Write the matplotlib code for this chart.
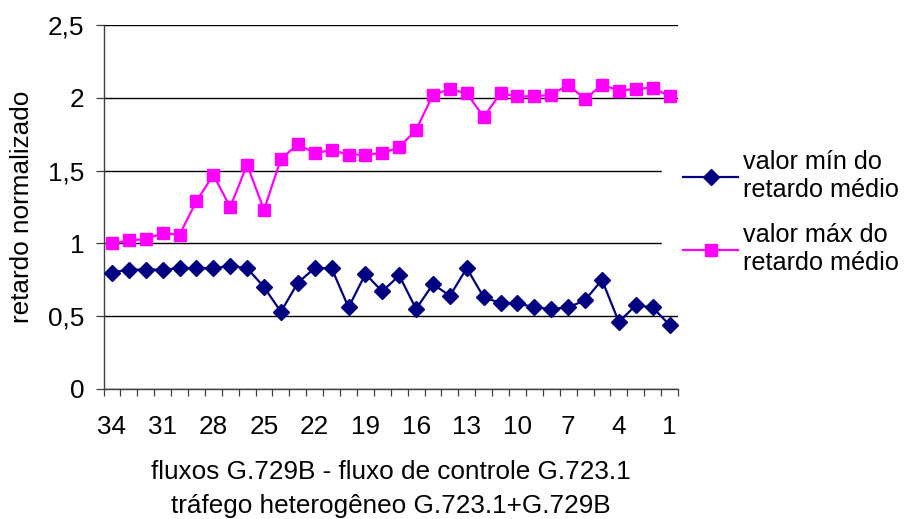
import matplotlib
matplotlib.use('Agg')
import matplotlib.pyplot as plt
from matplotlib.ticker import FixedLocator, FuncFormatter

plt.rcParams['font.family'] = ['Liberation Sans', 'DejaVu Sans']

fluxos = list(range(34, 0, -1))
valor_min = [0.80, 0.82, 0.82, 0.82, 0.83, 0.83, 0.83, 0.845, 0.83, 0.70,
             0.53, 0.73, 0.83, 0.83, 0.56, 0.79, 0.67, 0.78, 0.55, 0.72,
             0.64, 0.83, 0.63, 0.59, 0.59, 0.56, 0.55, 0.56, 0.61, 0.75,
             0.46, 0.575, 0.56, 0.44]
valor_max = [1.00, 1.02, 1.03, 1.07, 1.06, 1.29, 1.47, 1.25, 1.54, 1.23,
             1.58, 1.68, 1.62, 1.64, 1.61, 1.61, 1.62, 1.66, 1.78, 2.02,
             2.06, 2.03, 1.87, 2.03, 2.01, 2.01, 2.02, 2.09, 1.99, 2.09,
             2.05, 2.06, 2.07, 2.01]
yticks = [0, 0.5, 1, 1.5, 2, 2.5]

fs = 18.8
fig = plt.figure(figsize=(9.07, 5.19), dpi=100)
ax = fig.add_axes([103.5 / 907, 1 - 389 / 519, 574.5 / 907, 364 / 519])

x = list(range(len(fluxos)))
ax.plot(x, valor_min, color='#000080', marker='D', markersize=8.5, lw=1.6,
        label='valor mín do\nretardo médio', zorder=3)
ax.plot(x, valor_max, color='#FF00FF', marker='s', markersize=9, lw=1.6,
        label='valor máx do\nretardo médio', zorder=3)

ax.set_xlim(-0.5, len(fluxos) - 0.5)
ax.set_ylim(0, 2.5)
ax.set_yticks(yticks)
ax.yaxis.set_major_formatter(FuncFormatter(lambda v, p: f'{v:g}'.replace('.', ',')))
ax.yaxis.grid(True, color='black', lw=1.0)
ax.set_axisbelow(True)

ax.set_xticks(x[::3])
ax.set_xticklabels([str(f) for f in fluxos[::3]])
ax.xaxis.set_minor_locator(FixedLocator([i - 0.5 for i in range(len(fluxos) + 1)]))
ax.tick_params(axis='x', which='major', length=0, pad=19, labelsize=fs)
ax.tick_params(axis='x', which='minor', length=5, width=0.9, color='#404040')
ax.tick_params(axis='y', length=6, width=0.9, pad=8, labelsize=fs, color='#404040')

for s in ['top', 'right']:
    ax.spines[s].set_visible(False)
for s in ['left', 'bottom']:
    ax.spines[s].set_color('#404040')
    ax.spines[s].set_linewidth(1.0)

ax.set_ylabel('retardo normalizado', fontsize=fs, labelpad=10)
ax.set_xlabel('fluxos G.729B - fluxo de controle G.723.1\ntráfego heterogêneo G.723.1+G.729B',
              fontsize=fs, labelpad=15, linespacing=1.5)

leg = ax.legend(loc='center left', bbox_to_anchor=(0.972, 0.485), frameon=True,
                fontsize=18.2, handlelength=2.15, handletextpad=0.22, labelspacing=0.8,
                borderaxespad=0, borderpad=0.85)
leg.get_frame().set_edgecolor('white')
leg.get_frame().set_facecolor('white')
leg.get_frame().set_alpha(1)
for t in leg.get_texts():
    t.set_linespacing(1.25)

fig.savefig('out.png', dpi=100)
